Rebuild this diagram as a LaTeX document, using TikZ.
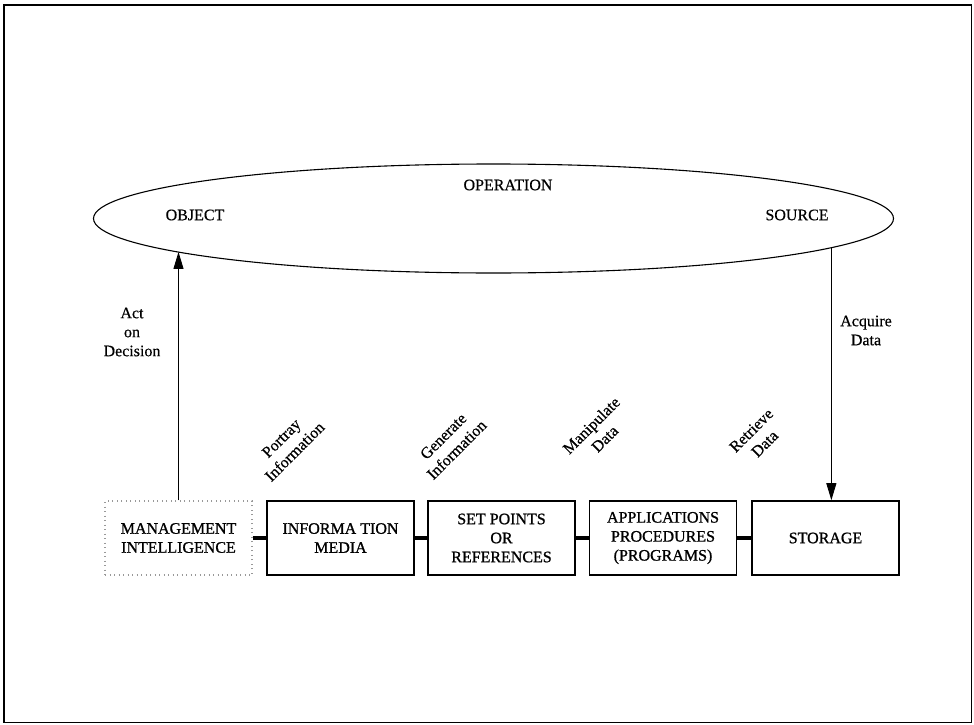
\documentclass[tikz,border=0pt]{standalone}
\usepackage{fontspec}
\setmainfont{Liberation Serif}[FakeBold=0.4]
\newfontfamily\boxfont{Liberation Serif}[FakeBold=1]
\usetikzlibrary{arrows.meta,shapes.geometric}
\begin{document}
\begin{tikzpicture}[x=1pt,y=-1pt,
  every node/.style={font=\fontsize{16}{19}\selectfont, align=center, inner sep=0pt},
  procbox/.style={draw, line width=1.6pt, minimum width=147pt, minimum height=74pt,
    font=\boxfont\fontsize{16}{19}\selectfont},
  mgmtbox/.style={procbox, draw=black!40, line width=1.2pt, dash pattern=on 1pt off 3.5pt},
  link/.style={line width=4.5pt},
  flow/.style={-{Triangle[length=17pt,width=10pt]}, line width=0.9pt},
  slanted/.style={rotate=45, font=\fontsize{16}{19}\selectfont}]
\useasboundingbox (0,0) rectangle (974,725);
% outer frame
\draw[line width=1.8pt] (4,5) rectangle (971.5,722.5);

% the operation ellipse and its labels
\node[draw, ellipse, line width=1.1pt, minimum width=800pt, minimum height=109pt] (op) at (493.5,218.5) {};
\node (oplbl) at (508,185) {OPERATION};
\node (objlbl) at (195,215) {OBJECT};
\node (srclbl) at (797,215) {SOURCE};

% chain of processing boxes
\node[mgmtbox] (mgmt) at (178.5,538) {MANAGEMENT\\INTELLIGENCE};
\node[procbox] (info) at (340.5,538) {INFORMA TION\\MEDIA};
\node[procbox] (setp) at (501.5,538) {SET POINTS\\OR\\REFERENCES};
\node[procbox] (apps) at (663,538) {APPLICATIONS\\PROCEDURES\\(PROGRAMS)};
\node[procbox] (stor) at (825.5,538) {STORAGE};

\draw[link] (mgmt.east) -- (info.west);
\draw[link] (info.east) -- (setp.west);
\draw[link] (setp.east) -- (apps.west);
\draw[link] (apps.east) -- (stor.west);

% feedback arrows to and from the operation
\draw[flow] (mgmt.north) -- (mgmt.north |- op.186.15);
\draw[flow] (op.-5.51) -- (op.-5.51 |- stor.north);

\node (actlbl) at (132,332) {Act\\on\\Decision};
\node (acqlbl) at (866,330.5) {Acquire\\Data};

% step labels along the chain
\node[slanted] (portray) at (288,445) {Portray\\Information};
\node[slanted] (generate) at (450,443) {Generate\\Information};
\node[slanted] (manip) at (598,432) {Manipulate\\Data};
\node[slanted] (retr) at (758,437) {Retrieve\\Data};
\end{tikzpicture}
\end{document}
